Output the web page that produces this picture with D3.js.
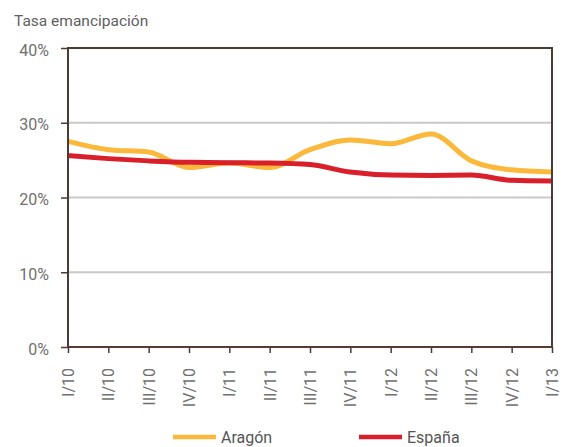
<!DOCTYPE html>
<html>
<head>
<meta charset="utf-8">
<script src="https://cdn.jsdelivr.net/npm/d3@7"></script>
<style>
  body { margin: 0; background: #fff; }
  text { font-family: Roboto, "Liberation Sans", sans-serif; }
</style>
</head>
<body>
<div id="chart"></div>
<script>
// Datos (tasa de emancipación, %)
const trimestres = ["I/10", "II/10", "III/10", "IV/10", "I/11", "II/11", "III/11",
                    "IV/11", "I/12", "II/12", "III/12", "IV/12", "I/13"];
const aragon = [27.5, 26.4, 26.1, 24.0, 24.6, 24.0, 26.4, 27.7, 27.2, 28.5, 24.9, 23.7, 23.4];
const espana = [25.6, 25.2, 24.9, 24.7, 24.65, 24.6, 24.4, 23.4, 23.0, 22.95, 23.0, 22.3, 22.2];
const yTicks = [0, 10, 20, 30, 40];

const series = [
    { name: "Aragón", values: aragon, color: "#fbb83b" },
    { name: "España", values: espana, color: "#d81f2a" }
];

// Dimensiones
const W = 569, H = 447;
const margin = { top: 48, right: 17, bottom: 100, left: 68 };
const width = W - margin.left - margin.right;
const height = H - margin.top - margin.bottom;
const frameColor = "#4a3b36";

const svg = d3.select("#chart")
    .append("svg")
    .attr("width", W)
    .attr("height", H);

const g = svg.append("g")
    .attr("transform", `translate(${margin.left}, ${margin.top})`);

// Escalas
const x = d3.scalePoint()
    .domain(trimestres)
    .range([0, width]);

const y = d3.scaleLinear()
    .domain([0, 40])
    .range([height, 0]);

// Líneas de cuadrícula
g.append("g")
    .selectAll("line")
    .data(yTicks.filter(d => d > 0 && d < 40))
    .enter()
    .append("line")
    .attr("x1", 0)
    .attr("x2", width)
    .attr("y1", d => y(d))
    .attr("y2", d => y(d))
    .attr("stroke", "#c9c9c9")
    .attr("stroke-width", 2);

// Líneas de datos
const line = d3.line()
    .x((d, i) => x(trimestres[i]))
    .y(d => y(d))
    .curve(d3.curveMonotoneX);

g.selectAll(".serie")
    .data(series)
    .enter()
    .append("path")
    .attr("class", "serie")
    .attr("fill", "none")
    .attr("stroke", d => d.color)
    .attr("stroke-width", 5)
    .attr("stroke-linejoin", "round")
    .attr("d", d => line(d.values));

// Marco superior y derecho
g.append("line")
    .attr("x1", 0).attr("x2", width)
    .attr("y1", y(40)).attr("y2", y(40))
    .attr("stroke", frameColor).attr("stroke-width", 2);

g.append("line")
    .attr("x1", width).attr("x2", width)
    .attr("y1", y(40) - 1).attr("y2", height)
    .attr("stroke", frameColor).attr("stroke-width", 2);

// Eje Y
const yAxis = g.append("g")
    .call(d3.axisLeft(y)
        .tickValues(yTicks)
        .tickSize(7)
        .tickPadding(12)
        .tickFormat(d => d + "%"));

yAxis.select(".domain")
    .attr("stroke", frameColor)
    .attr("stroke-width", 2)
    .attr("d", `M0,${y(40) - 1}V${height + 1}`);

yAxis.selectAll(".tick line")
    .attr("stroke", frameColor)
    .attr("stroke-width", 1.5);

yAxis.selectAll(".tick text")
    .attr("fill", "#707070")
    .attr("font-size", "16px")
    .attr("dy", "0.45em");

// Eje X
const xAxis = g.append("g")
    .attr("transform", `translate(0, ${height})`)
    .call(d3.axisBottom(x).tickSize(6).tickPadding(0));

xAxis.select(".domain")
    .attr("stroke", "#5b3b31")
    .attr("stroke-width", 2)
    .attr("d", `M0,0H${width}`);

xAxis.selectAll(".tick line")
    .attr("stroke", frameColor)
    .attr("stroke-width", 1.5);

xAxis.selectAll(".tick text")
    .attr("fill", "#707070")
    .attr("font-size", "16px")
    .attr("text-anchor", "end")
    .attr("transform", "rotate(-90)")
    .attr("x", -21)
    .attr("y", 0)
    .attr("dy", "0.35em");

// Título
svg.append("text")
    .attr("x", 14)
    .attr("y", 26)
    .attr("fill", "#606060")
    .attr("font-size", "15.5px")
    .text("Tasa emancipación");

// Leyenda
const legendX = [173, 359];
const legend = svg.selectAll(".leyenda")
    .data(series)
    .enter()
    .append("g")
    .attr("class", "leyenda")
    .attr("transform", (d, i) => `translate(${legendX[i]}, 437)`);

legend.append("line")
    .attr("x1", 0).attr("x2", 43)
    .attr("y1", 0).attr("y2", 0)
    .attr("stroke", d => d.color)
    .attr("stroke-width", 4.5);

legend.append("text")
    .attr("x", 48)
    .attr("y", 6)
    .attr("fill", "#555")
    .attr("font-size", "16px")
    .text(d => d.name);
</script>
</body>
</html>
